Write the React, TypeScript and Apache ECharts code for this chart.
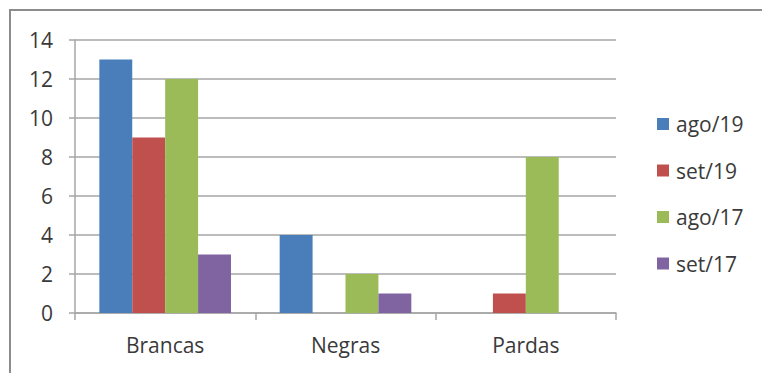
import React, { useEffect, useRef } from "react";
import * as echarts from "echarts";

const categories = ["Brancas", "Negras", "Pardas"];
const seriesNames = ["ago/19", "set/19", "ago/17", "set/17"];
const ago19 = [13, 4, 0];
const set19 = [9, 0, 1];
const ago17 = [12, 2, 8];
const set17 = [3, 1, 0];
const colors = ["#4A7EBB", "#C0504D", "#9BBB59", "#8064A2"];

const FONT = "'Open Sans', 'Liberation Sans', sans-serif";

export default function App() {
  const ref = useRef<HTMLDivElement>(null);

  useEffect(() => {
    if (!ref.current) return;
    const chart = echarts.init(ref.current, undefined, { renderer: "svg" });
    const values = [ago19, set19, ago17, set17];
    chart.setOption({
      animation: false,
      backgroundColor: "#ffffff",
      color: colors,
      textStyle: { fontFamily: FONT },
      graphic: [
        {
          type: "rect",
          shape: { x: 10, y: 10, width: 760, height: 380 },
          style: { fill: "none", stroke: "#8c8c8c", lineWidth: 2 },
          silent: true,
        },
      ],
      grid: { left: 75, top: 40, width: 541, height: 273 },
      legend: {
        orient: "vertical",
        left: 652,
        top: 108,
        itemWidth: 12,
        itemHeight: 12,
        itemGap: 24.5,
        icon: "rect",
        data: seriesNames,
        textStyle: { fontSize: 21, color: "#3a3a3a", lineHeight: 22, fontFamily: FONT, padding: [0, 0, 0, 2] },
      },
      xAxis: {
        type: "category",
        data: categories,
        axisLine: { lineStyle: { color: "#a6a6a6", width: 1.5 } },
        axisTick: { show: true, length: 7, lineStyle: { color: "#a6a6a6", width: 1.5 } },
        axisLabel: { fontSize: 21, color: "#3a3a3a", margin: 21, fontFamily: FONT },
      },
      yAxis: {
        type: "value",
        min: 0,
        max: 14,
        interval: 2,
        axisLine: { show: true, lineStyle: { color: "#a6a6a6", width: 1.5 } },
        axisTick: { show: true, length: 6, lineStyle: { color: "#a6a6a6", width: 1.5 } },
        splitLine: { lineStyle: { color: "#a6a6a6", width: 1.5 } },
        axisLabel: { fontSize: 21, color: "#3a3a3a", margin: 22, fontFamily: FONT },
      },
      series: seriesNames.map((name, i) => ({
        name,
        type: "bar",
        data: values[i],
        barGap: "0%",
        barCategoryGap: "27%",
        itemStyle: { color: colors[i] },
      })),
    });
    return () => chart.dispose();
  }, []);

  return (
    <div
      ref={ref}
      style={{ position: "absolute", left: 0, top: 0, width: 762, height: 373 }}
    />
  );
}
